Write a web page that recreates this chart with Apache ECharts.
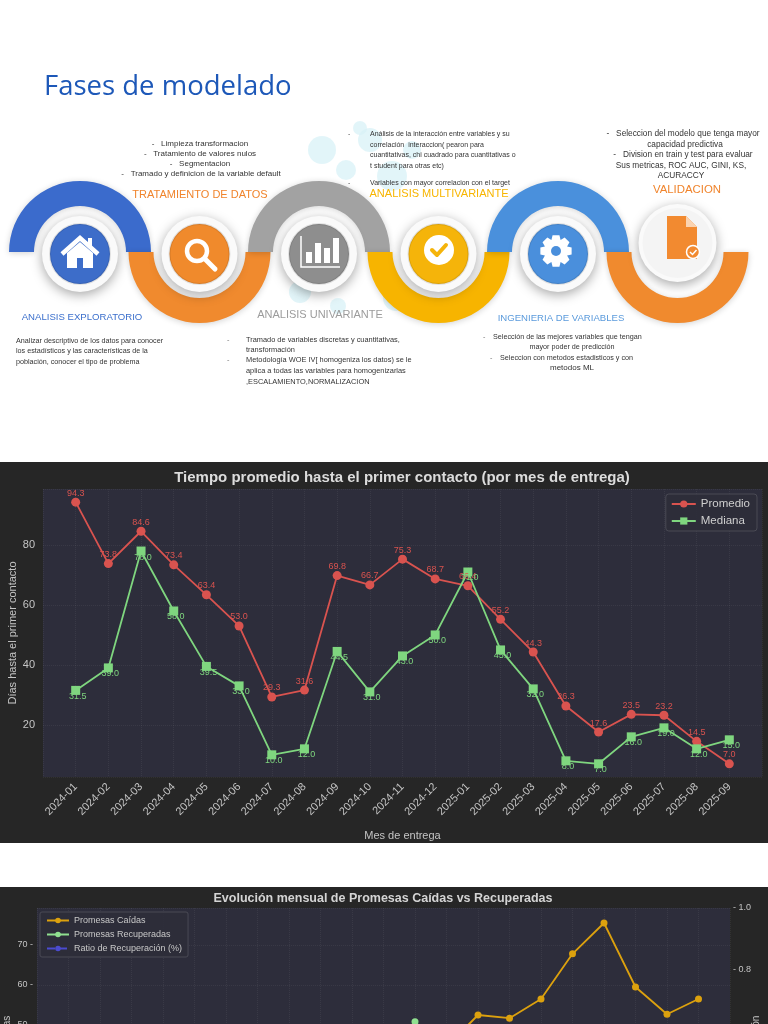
<!DOCTYPE html>
<html>
<head>
<meta charset="utf-8">
<script src="https://cdn.jsdelivr.net/npm/echarts@6/dist/echarts.min.js"></script>
<style>
  body { margin:0; width:768px; height:1024px; overflow:hidden; background:#fff; position:relative; }
  #info { position:absolute; left:0; top:0; width:768px; height:460px; }
  #c1 { position:absolute; left:0; top:462px; width:768px; height:381px; }
  #c2 { position:absolute; left:0; top:887px; width:768px; height:387px; }
</style>
</head>
<body>
<div id="info"></div>
<div id="c1"></div>
<div id="c2"></div>
<script>
// ---- datos ----
var meses = ['2024-01','2024-02','2024-03','2024-04','2024-05','2024-06','2024-07','2024-08','2024-09','2024-10','2024-11','2024-12',
             '2025-01','2025-02','2025-03','2025-04','2025-05','2025-06','2025-07','2025-08','2025-09'];
var promedio = [94.3, 73.8, 84.6, 73.4, 63.4, 53.0, 29.3, 31.6, 69.8, 66.7, 75.3, 68.7, 66.4, 55.2, 44.3, 26.3, 17.6, 23.5, 23.2, 14.5, 7.0];
var mediana  = [31.5, 39.0, 78.0, 58.0, 39.5, 33.0, 10.0, 12.0, 44.5, 31.0, 43.0, 50.0, 71.0, 45.0, 32.0, 8.0, 7.0, 16.0, 19.0, 12.0, 15.0];

var caidas       = [28, 31, 25, 33, 30, 36, 29, 34, 38, 35, 41, 39, 44.5, 52.5, 51.7, 56.5, 67.8, 75.5, 59.5, 52.7, 56.5];
var recuperadas  = [12, 15, 18, 14, 20, 22, 17, 25, 30, 28, 33, 50.8, 35, 30, 32, 36, 40, 34, 31, 29, 33];
var ratio        = [0.43, 0.48, 0.52, 0.42, 0.5, 0.47, 0.45, 0.5, 0.55, 0.52, 0.5, 0.58, 0.49, 0.44, 0.46, 0.45, 0.41, 0.38, 0.4, 0.42, 0.44];

var FONT = 'Liberation Sans';

// ---- infografia (fases de modelado) ----
function T(x, y, text, size, color, align, extra) {
  var st = { text: text, fontSize: size, fontFamily: FONT, fill: color || '#3a3a3a', align: align || 'left', verticalAlign: 'middle' };
  if (extra) for (var k in extra) st[k] = extra[k];
  return { type: 'text', x: x, y: y, style: st };
}

function gear(cx, cy, ro, ri, n) {
  var pts = [];
  var w = Math.PI / n;
  for (var i = 0; i < n; i++) {
    var a = (i / n) * 2 * Math.PI;
    pts.push([cx + ri * Math.cos(a - w * 1.0), cy + ri * Math.sin(a - w * 1.0)]);
    pts.push([cx + ro * Math.cos(a - w * 0.55), cy + ro * Math.sin(a - w * 0.55)]);
    pts.push([cx + ro * Math.cos(a + w * 0.55), cy + ro * Math.sin(a + w * 0.55)]);
    pts.push([cx + ri * Math.cos(a + w * 1.0), cy + ri * Math.sin(a + w * 1.0)]);
  }
  return pts;
}

var CY = 252, R = 71, R0 = 46;
var centros = [80, 199.5, 319, 438.5, 558, 677.5];
var arcoColor = ['#3b6bcc', '#f08a2e', '#a2a2a2', '#f7b400', '#4a90dc', '#f08a2e'];
var discoColor = ['#3d6dc9', '#f08a2c', '#8e8e8e', '#f5b40a', '#4a8fdc', '#f4f4f4'];

var els = [];
// burbujas decorativas
[[322,150,14],[346,170,10],[370,140,12],[392,176,15],[412,150,9],[300,292,11],[396,298,13],[338,306,8],[360,128,7]].forEach(function (b) {
  els.push({ type: 'circle', shape: { cx: b[0], cy: b[1], r: b[2] }, style: { fill: '#d8f2f7', opacity: 0.75 } });
});
// arcos
centros.forEach(function (cx, i) {
  var up = i % 2 === 0;
  els.push({
    type: 'sector',
    shape: { cx: cx, cy: CY, r0: R0, r: R, startAngle: up ? Math.PI : 0, endAngle: up ? 2 * Math.PI : Math.PI, clockwise: true },
    style: { fill: arcoColor[i], shadowBlur: 6, shadowColor: 'rgba(0,0,0,0.18)', shadowOffsetY: 1 }
  });
});
// anillos y discos
centros.forEach(function (cx, i) {
  var cy = i === 5 ? 243 : 254;
  els.push({ type: 'circle', shape: { cx: cx, cy: cy, r: i === 5 ? 39 : 38 },
    style: { fill: '#fafafa', shadowBlur: 12, shadowColor: 'rgba(0,0,0,0.35)', shadowOffsetY: 3 } });
  els.push({ type: 'circle', shape: { cx: cx, cy: cy, r: i === 5 ? 35 : 30 },
    style: { fill: discoColor[i], stroke: 'rgba(0,0,0,0.10)', lineWidth: i === 5 ? 0 : 2 } });
});
// icono casa
els.push({ type: 'polygon', shape: { points: [[67,253],[80,242],[93,253],[93,268],[67,268]] }, style: { fill: '#fff' } });
els.push({ type: 'polyline', shape: { points: [[62,254],[80,238],[98,254]] }, style: { stroke: '#fff', lineWidth: 4.5, fill: null } });
els.push({ type: 'rect', shape: { x: 88, y: 238, width: 4, height: 9 }, style: { fill: '#fff' } });
els.push({ type: 'rect', shape: { x: 77, y: 258, width: 6, height: 10 }, style: { fill: '#3d6dc9' } });
// icono lupa
els.push({ type: 'circle', shape: { cx: 197, cy: 251, r: 10 }, style: { fill: null, stroke: '#fff', lineWidth: 4.5 } });
els.push({ type: 'line', shape: { x1: 205, y1: 259, x2: 215, y2: 269 }, style: { stroke: '#fff', lineWidth: 5, lineCap: 'round' } });
// icono barras
els.push({ type: 'polyline', shape: { points: [[301,236],[301,267],[340,267]] }, style: { stroke: '#fff', lineWidth: 1.5, fill: null } });
[[306,252],[315,243],[324,248],[333,238]].forEach(function (b) {
  els.push({ type: 'rect', shape: { x: b[0], y: b[1], width: 6, height: 263 - b[1] }, style: { fill: '#fff' } });
});
// icono check
els.push({ type: 'circle', shape: { cx: 439, cy: 250, r: 15 }, style: { fill: '#fff' } });
els.push({ type: 'polyline', shape: { points: [[432,250],[437,255],[446,245]] }, style: { stroke: '#f5b40a', lineWidth: 4, fill: null, lineCap: 'round', lineJoin: 'round' } });
// icono engranaje
els.push({ type: 'polygon', shape: { points: gear(556, 251, 16, 12, 8) }, style: { fill: '#fff' } });
els.push({ type: 'circle', shape: { cx: 556, cy: 251, r: 5 }, style: { fill: '#4a8fdc' } });
// icono documento
els.push({ type: 'polygon', shape: { points: [[667,216],[686,216],[697,227],[697,259],[667,259]] }, style: { fill: '#f28a30' } });
els.push({ type: 'polygon', shape: { points: [[686,216],[686,227],[697,227]] }, style: { fill: '#fbd3b0' } });
els.push({ type: 'circle', shape: { cx: 693, cy: 252, r: 6.5 }, style: { fill: '#f28a30', stroke: '#fff', lineWidth: 1.5 } });
els.push({ type: 'polyline', shape: { points: [[690,252],[692.5,254.5],[696.5,250]] }, style: { stroke: '#fff', lineWidth: 1.5, fill: null } });

// titulo
els.push({ type: 'text', x: 44, y: 87, style: { text: 'Fases de modelado', fontSize: 27.5, fontFamily: 'Open Sans', fill: '#1d58b8', align: 'left', verticalAlign: 'middle' } });
// encabezados de fase
els.push(T(200, 195, 'TRATAMIENTO DE DATOS', 11, '#f0842c', 'center'));
els.push(T(439, 194, 'ANALISIS MULTIVARIANTE', 11, '#f7b500', 'center'));
els.push(T(687, 190, 'VALIDACION', 11.4, '#f0842c', 'center'));
els.push(T(82, 317, 'ANALISIS EXPLORATORIO', 9.6, '#3b6fcc', 'center'));
els.push(T(320, 315, 'ANALISIS UNIVARIANTE', 11, '#9c9c9c', 'center'));
els.push(T(561, 318, 'INGENIERIA DE VARIABLES', 9.6, '#5b9bdc', 'center'));
// texto tratamiento
els.push(T(200, 144, '-   Limpieza transformacion', 8, '#333', 'center'));
els.push(T(200, 154, '-   Tratamiento de valores nulos', 8, '#333', 'center'));
els.push(T(200, 164, '-   Segmentacion', 8, '#333', 'center'));
els.push(T(201, 174, '-   Tramado y definicion de la variable default', 8, '#333', 'center'));
// texto multivariante
els.push(T(348, 134, '-', 7, '#555'));
els.push(T(370, 134, 'Análisis de la interacción entre variables y su', 7, '#333'));
els.push(T(370, 145, 'correlación  interaccion( pearon para', 7, '#333'));
els.push(T(370, 155, 'cuantitativas, chi cuadrado para cuantitativas o', 7, '#333'));
els.push(T(370, 166, 't student para otras etc)', 7, '#333'));
els.push(T(348, 183, '-', 7, '#555'));
els.push(T(370, 183, 'Variables con mayor correlacion con el target', 7, '#333'));
// texto validacion
els.push(T(683, 134, '-   Seleccion del modelo que tenga mayor', 8.3, '#333', 'center'));
els.push(T(685, 145, 'capacidad predictiva', 8.3, '#333', 'center'));
els.push(T(683, 155, '-   Division en train y test para evaluar', 8.3, '#333', 'center'));
els.push(T(681, 166, 'Sus metricas, ROC AUC, GINI, KS,', 8.3, '#333', 'center'));
els.push(T(681, 176, 'ACURACCY', 8.3, '#333', 'center'));
// texto exploratorio
els.push(T(16, 341, 'Analizar descriptivo de los datos para conocer', 7.2, '#333'));
els.push(T(16, 351, 'los estadísticos y las características de la', 7.2, '#333'));
els.push(T(16, 362, 'población, conocer el tipo de problema', 7.2, '#333'));
// texto univariante
els.push(T(227, 340, '-', 7.4, '#777'));
els.push(T(246, 340, 'Tramado de variables discretas y cuantitativas,', 7.4, '#333'));
els.push(T(246, 350, 'transformación', 7.4, '#333'));
els.push(T(227, 360, '-', 7.4, '#777'));
els.push(T(246, 360, 'Metodología WOE IV[ homogeniza los datos) se le', 7.4, '#333'));
els.push(T(246, 371, 'aplica a todas las variables para homogenizarlas', 7.4, '#333'));
els.push(T(246, 382, ',ESCALAMIENTO,NORMALIZACION', 7.4, '#333'));
// texto ingenieria
els.push(T(483, 337, '-', 7.2, '#777'));
els.push(T(493, 337, 'Selección de las mejores variables que tengan', 7.2, '#333'));
els.push(T(572, 347, 'mayor poder de predicción', 7.2, '#333', 'center'));
els.push(T(490, 358, '-', 7.2, '#777'));
els.push(T(500, 358, 'Seleccion con metodos estadisticos y con', 7.2, '#333'));
els.push(T(572, 368, 'metodos ML', 8, '#333', 'center'));

var info = echarts.init(document.getElementById('info'));
info.setOption({ animation: false, graphic: els });

// ---- grafico 1 ----
var rojo = '#d9534f', verde = '#7fd67f';
var c1 = echarts.init(document.getElementById('c1'));
c1.setOption({
  backgroundColor: '#262626',
  animation: false,
  graphic: [{ type: 'text', x: 402, y: 16, style: { text: 'Tiempo promedio hasta el primer contacto (por mes de entrega)', fill: '#dcdcdc', fontSize: 15, fontWeight: 'bold', fontFamily: FONT, align: 'center', verticalAlign: 'middle' } }],
  grid: { left: 43, right: 6, top: 27, bottom: 66, show: true, backgroundColor: '#2d2d3b', borderWidth: 0,
          containLabel: false, outerBoundsMode: 'none' },
  legend: {
    right: 11, top: 32, orient: 'vertical', itemWidth: 24, itemHeight: 9, itemGap: 5,
    padding: [4, 7, 4, 5], backgroundColor: 'rgba(45,45,58,0.9)', borderColor: '#4a4a55', borderWidth: 1, borderRadius: 3,
    textStyle: { color: '#cfcfcf', fontSize: 11.5, fontFamily: FONT },
    data: ['Promedio', 'Mediana']
  },
  xAxis: {
    type: 'value', min: -1, max: 21, interval: 1,
    axisLine: { show: false }, axisTick: { show: false },
    splitLine: { show: true, lineStyle: { color: 'rgba(255,255,255,0.06)', type: 'dotted' } },
    axisLabel: { rotate: 45, margin: 8, color: '#c4c4c4', fontSize: 11, fontFamily: FONT,
      formatter: function (v) { return meses[v] || ''; } },
    name: 'Mes de entrega', nameLocation: 'middle', nameGap: 53, nameMoveOverlap: false,
    nameTextStyle: { color: '#c4c4c4', fontSize: 11, fontFamily: FONT }
  },
  yAxis: {
    type: 'value', min: 2.6, max: 98.7,
    axisLine: { show: false }, axisTick: { show: false },
    splitLine: { show: true, lineStyle: { color: 'rgba(255,255,255,0.06)', type: 'dotted' } },
    axisLabel: { color: '#c4c4c4', fontSize: 11, fontFamily: FONT, margin: 8,
      formatter: function (v) { return v % 20 === 0 ? String(v) : ''; } },
    name: 'Días hasta el primer contacto', nameLocation: 'middle', nameGap: 25, nameRotate: 90, nameMoveOverlap: false,
    nameTextStyle: { color: '#c4c4c4', fontSize: 11, fontFamily: FONT }
  },
  series: [
    {
      name: 'Promedio', type: 'line', data: meses.map(function (m, i) { return [i, promedio[i]]; }),
      symbol: 'circle', symbolSize: 9,
      lineStyle: { width: 1.8, color: rojo }, itemStyle: { color: rojo },
      label: { show: true, position: 'inside', offset: [0, -9], color: rojo, fontSize: 9, fontFamily: FONT,
        formatter: function (p) { return p.value[1].toFixed(1); } }
    },
    {
      name: 'Mediana', type: 'line', data: meses.map(function (m, i) { return [i, mediana[i]]; }),
      symbol: 'rect', symbolSize: 9,
      lineStyle: { width: 1.8, color: verde }, itemStyle: { color: verde },
      label: { show: true, position: 'inside', offset: [2, 6], color: verde, fontSize: 9, fontFamily: FONT,
        formatter: function (p) { return p.value[1].toFixed(1); } }
    }
  ]
});

// ---- grafico 2 ----
var naranja = '#dca10e', verde2 = '#90e090', azul = '#4b4bd0';
var c2 = echarts.init(document.getElementById('c2'));
c2.setOption({
  backgroundColor: '#262626',
  animation: false,
  graphic: [{ type: 'text', x: 383, y: 12, style: { text: 'Evolución mensual de Promesas Caídas vs Recuperadas', fill: '#d4d4d4', fontSize: 12.5, fontWeight: 'bold', fontFamily: FONT, align: 'center', verticalAlign: 'middle' } }],
  grid: { left: 37, right: 38, top: 21, height: 317, show: true, backgroundColor: '#2d2d3b', borderWidth: 0,
          containLabel: false, outerBoundsMode: 'none' },
  legend: {
    left: 40, top: 25, orient: 'vertical', itemWidth: 22, itemHeight: 7, itemGap: 5,
    padding: [4, 6], backgroundColor: 'rgba(45,45,58,0.9)', borderColor: '#4a4a55', borderWidth: 1, borderRadius: 2,
    textStyle: { color: '#c8c8c8', fontSize: 9, fontFamily: FONT },
    data: ['Promesas Caídas', 'Promesas Recuperadas', 'Ratio de Recuperación (%)']
  },
  xAxis: {
    type: 'value', min: -1, max: 21, interval: 1,
    axisLine: { show: false }, axisTick: { show: false },
    splitLine: { show: true, lineStyle: { color: 'rgba(255,255,255,0.06)', type: 'dotted' } },
    axisLabel: { rotate: 45, color: '#c4c4c4', fontSize: 9, fontFamily: FONT,
      formatter: function (v) { return meses[v] || ''; } }
  },
  yAxis: [
    {
      type: 'value', min: 0, max: 79.25, interval: 10,
      axisLine: { show: false }, axisTick: { show: false },
      splitLine: { show: true, lineStyle: { color: 'rgba(255,255,255,0.06)', type: 'dotted' } },
      axisLabel: { color: '#c4c4c4', fontSize: 9, fontFamily: FONT, margin: 4,
        formatter: function (v) { return v % 10 === 0 ? v + ' -' : ''; } },
      name: 'Cantidad de Promesas', nameLocation: 'middle', nameGap: 25, nameRotate: 90, nameMoveOverlap: false,
      nameTextStyle: { color: '#c4c4c4', fontSize: 10, fontFamily: FONT }
    },
    {
      type: 'value', min: -0.0226, max: 1.0, position: 'right',
      axisLine: { show: false }, axisTick: { show: false },
      splitLine: { show: false },
      axisLabel: { color: '#c4c4c4', fontSize: 9, fontFamily: FONT, margin: 3,
        formatter: function (v) { return Math.abs(v * 5 - Math.round(v * 5)) < 1e-6 ? '- ' + v.toFixed(1) : ''; } },
      name: 'Ratio de Recuperación', nameLocation: 'middle', nameGap: 21, nameRotate: 90, nameMoveOverlap: false,
      nameTextStyle: { color: '#c4c4c4', fontSize: 10, fontFamily: FONT }
    }
  ],
  series: [
    { name: 'Promesas Caídas', type: 'line', data: meses.map(function (m, i) { return [i, caidas[i]]; }),
      symbol: 'circle', symbolSize: 7, lineStyle: { width: 1.8, color: naranja }, itemStyle: { color: naranja } },
    { name: 'Promesas Recuperadas', type: 'line', data: meses.map(function (m, i) { return [i, recuperadas[i]]; }),
      symbol: 'circle', symbolSize: 7, lineStyle: { width: 1.8, color: verde2 }, itemStyle: { color: verde2 } },
    { name: 'Ratio de Recuperación (%)', type: 'line', yAxisIndex: 1, data: meses.map(function (m, i) { return [i, ratio[i]]; }),
      symbol: 'circle', symbolSize: 6, lineStyle: { width: 1.5, color: azul, type: 'dashed' }, itemStyle: { color: azul } }
  ]
});
</script>
</body>
</html>
